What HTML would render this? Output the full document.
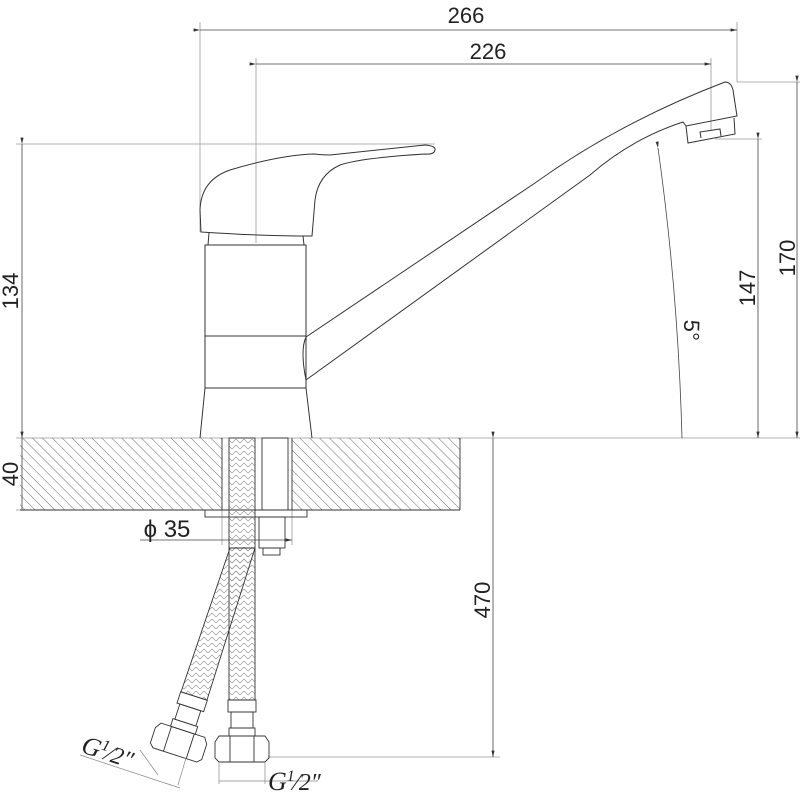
<!DOCTYPE html>
<html><head><meta charset="utf-8"><style>html,body{margin:0;padding:0;background:#fff}svg{display:block}</style></head>
<body>
<svg width="800" height="800" viewBox="0 0 800 800" xmlns="http://www.w3.org/2000/svg">
<defs>
<pattern id="h" width="7" height="7" patternUnits="userSpaceOnUse" patternTransform="rotate(-45)">
<line x1="0" y1="0" x2="0" y2="7" stroke="#444" stroke-width="0.8"/>
</pattern>
<pattern id="hb" width="8" height="6" patternUnits="userSpaceOnUse">
<path d="M0 5 L4 1 L8 5" fill="none" stroke="#888" stroke-width="0.6"/>
</pattern>
<marker id="a" markerWidth="8" markerHeight="6" refX="8" refY="3" orient="auto"><path d="M0 1 L8 3 L0 5z" fill="#333"/></marker>
</defs>
<g fill="none" stroke="#999" stroke-width="0.8">
<line x1="200" y1="22" x2="200" y2="232"/>
<line x1="256" y1="58" x2="256" y2="243"/>
<line x1="737" y1="22" x2="737" y2="82"/>
<line x1="711" y1="58" x2="711" y2="130"/>
<line x1="16" y1="144" x2="435" y2="144"/>
<line x1="737" y1="82" x2="800" y2="82"/>
<line x1="715" y1="139" x2="762" y2="139"/>
<line x1="16" y1="438" x2="800" y2="438"/>
<line x1="16" y1="510" x2="205" y2="510"/>
<line x1="268" y1="757" x2="500" y2="757"/>
<line x1="222" y1="510" x2="222" y2="545"/>
<line x1="292" y1="510" x2="292" y2="545"/>
</g>
<g fill="none" stroke="#444" stroke-width="0.8">
<line x1="200" y1="30" x2="737" y2="30" marker-start="url(#a)" marker-end="url(#a)"/>
<line x1="256" y1="64" x2="711" y2="64" marker-start="url(#a)" marker-end="url(#a)"/>
<line x1="797" y1="82" x2="797" y2="438" marker-start="url(#a)" marker-end="url(#a)"/>
<line x1="758" y1="139" x2="758" y2="438" marker-start="url(#a)" marker-end="url(#a)"/>
<line x1="22" y1="144" x2="22" y2="438" marker-start="url(#a)" marker-end="url(#a)"/>
<line x1="22" y1="438" x2="22" y2="510"/>
<line x1="493" y1="438" x2="493" y2="757" marker-start="url(#a)" marker-end="url(#a)"/>
<line x1="140" y1="540" x2="292" y2="540" marker-end="url(#a)"/>
<path d="M658 148 Q678 290 682 438" marker-start="url(#a)"/>
</g>
<rect x="20" y="438" width="202" height="72" fill="url(#h)"/>
<rect x="292" y="438" width="168" height="72" fill="url(#h)"/>
<g fill="none" stroke="#333" stroke-width="0.9">
<line x1="20" y1="510" x2="460" y2="510"/>
<line x1="460" y1="438" x2="460" y2="510"/>
<line x1="222" y1="438" x2="222" y2="510"/>
<line x1="292" y1="438" x2="292" y2="510"/>
<rect x="229" y="438" width="26" height="110" fill="url(#hb)"/>
<rect x="262" y="438" width="26" height="72"/>
<rect x="205" y="510" width="102" height="7"/>
<rect x="259" y="517" width="26" height="31"/>
<rect x="263" y="548" width="17" height="7"/>
<rect x="229" y="548" width="26" height="152" fill="url(#hb)"/>
<rect x="228" y="700" width="28" height="12"/>
<rect x="231" y="712" width="22" height="16"/>
<rect x="229" y="728" width="26" height="8"/>
<path d="M215 742 L219 736 L265 736 L269 742 L269 758 L265 762 L219 762 L215 758Z"/>
<line x1="230" y1="736" x2="230" y2="762"/><line x1="254" y1="736" x2="254" y2="762"/>
<path d="M230 548 L255 548 L207 700 L181 692 Z" fill="url(#hb)"/>
<g transform="translate(194,696) rotate(18)">
<rect x="-14" y="0" width="28" height="12"/>
<rect x="-11" y="12" width="22" height="16"/>
<rect x="-13" y="28" width="26" height="8"/>
<path d="M-27 42 L-23 36 L23 36 L27 42 L27 58 L23 62 L-23 62 L-27 58Z"/>
<line x1="-12" y1="36" x2="-12" y2="62"/><line x1="12" y1="36" x2="12" y2="62"/>
</g>
</g>
<g fill="none" stroke="#888" stroke-width="0.7">
<line x1="219" y1="762" x2="219" y2="784"/><line x1="265" y1="762" x2="265" y2="784"/>
<line x1="219" y1="781" x2="318" y2="781"/>
<line x1="140" y1="750" x2="158" y2="775"/>
<line x1="186" y1="758" x2="178" y2="785"/>
<line x1="80" y1="755" x2="180" y2="788"/>
</g>
<g fill="none" stroke="#333" stroke-width="1">
<path d="M201 232 L200 210 Q201 180 230 170 Q280 155 314 154 Q322 155 330 155 L425 145 Q436 146 435 150 Q434 155 425 154 Q360 158 340 165 Q318 175 315 200 L312 236 Q260 236 201 232Z"/>
<path d="M209 233 L208 245 M303 236 L304 245"/>
<rect x="205" y="245" width="101" height="143"/>
<line x1="205" y1="336" x2="306" y2="336"/>
<path d="M205 388 L200 438 M306 388 L312 438"/>
<path d="M306 337 Q300 350 306 380"/>
<path d="M306 337 L535 183 Q620 122 725 82 Q731 82 733 90 L737 116 L686 126 L683 122 L680 123 Q630 140 590 175 L306 380"/>
<path d="M734 118 L735 134 L688 143 L686 126"/>
<path d="M701 138 L700 132 L720 129 L721 136"/>
</g>
<g font-family="Liberation Sans, sans-serif" font-size="22" fill="#222">
<text x="466" y="23" text-anchor="middle">266</text>
<text x="488" y="59" text-anchor="middle">226</text>
<text x="167" y="537" text-anchor="middle" font-size="24">ϕ 35</text>
<text transform="translate(18,291) rotate(-90)" text-anchor="middle">134</text>
<text transform="translate(18,474) rotate(-90)" text-anchor="middle">40</text>
<text transform="translate(490,600) rotate(-90)" text-anchor="middle">470</text>
<text transform="translate(755,288) rotate(-90)" text-anchor="middle">147</text>
<text transform="translate(795,258) rotate(-90)" text-anchor="middle">170</text>
<text transform="translate(684,330) rotate(92)" text-anchor="middle">5°</text>
</g>
<g font-family="Liberation Serif, serif" font-size="26" fill="#222" font-style="italic">
<text x="268" y="790">G<tspan font-size="16" dy="-9">1</tspan><tspan font-size="24" dy="9">⁄2″</tspan></text>
<text transform="translate(80,752) rotate(18)">G<tspan font-size="16" dy="-9">1</tspan><tspan font-size="24" dy="9">⁄2″</tspan></text>
</g>
</svg>
</body></html>
